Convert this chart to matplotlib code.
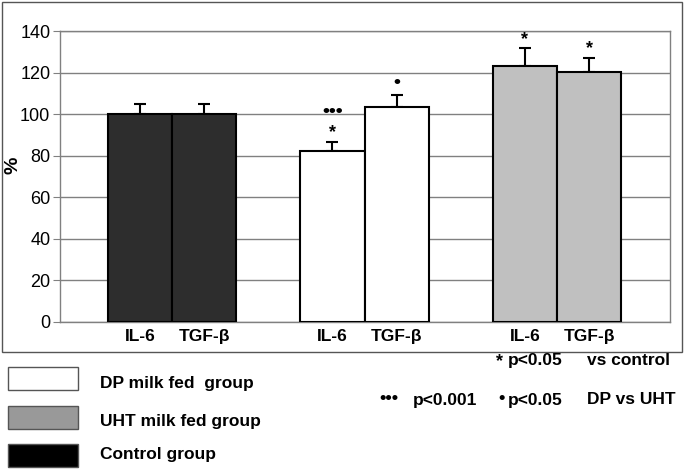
import matplotlib
matplotlib.use('Agg')
import matplotlib.pyplot as plt
import numpy as np
from matplotlib.patches import Rectangle

plt.rcParams['font.family'] = ['Liberation Sans', 'DejaVu Sans']

# data
groups = ['Control group', 'DP milk fed  group', 'UHT milk fed group']
markers = ['IL-6', 'TGF-β']
control_vals = [100, 100]
dp_vals = [82.4, 103.6]
uht_vals = [123.3, 120.1]
control_err = [5, 5]
dp_err = [4, 5.4]
uht_err = [8.3, 7]
# significance marks above each bar (top line first)
control_sig = [[], []]
dp_sig = [['•••', '*'], ['•']]
uht_sig = [['*'], ['*']]

values = [control_vals, dp_vals, uht_vals]
errors = [control_err, dp_err, uht_err]
sigs = [control_sig, dp_sig, uht_sig]
bar_colors = ['#2d2d2d', 'white', '#c0c0c0']
legend_colors = ['white', '#999999', 'black']

W, H = 685, 469
fig = plt.figure(figsize=(W / 100, H / 100), dpi=100)


def fx(px):
    return px / W


def fy(py):
    return 1 - py / H


# outer frame around the chart part
fig.patches.append(Rectangle((fx(2), fy(352)), fx(680), (350 / H),
                             transform=fig.transFigure, fill=False,
                             edgecolor='#555555', lw=1))

ax = fig.add_axes([fx(60), fy(322), fx(610), (322 - 31) / H])

width = 0.333
for g in range(3):
    xs = [g - width / 2, g + width / 2]
    ax.bar(xs, values[g], width, color=bar_colors[g], edgecolor='black',
           lw=1.5, zorder=3)
    ax.errorbar(xs, values[g], yerr=[[0, 0], errors[g]], fmt='none',
                ecolor='black', elinewidth=1.5, capsize=4.5, capthick=1.5,
                zorder=2)
    for i in range(2):
        top = values[g][i] + errors[g][i]
        marks = sigs[g][i]
        for k, m in enumerate(reversed(marks)):
            if m == '*':
                ax.text(xs[i], top + 4.5 + k * 9, m, ha='center', va='center',
                        fontsize=13, fontweight='bold')
            else:
                ax.text(xs[i], top + 6 + k * 9, m, ha='center', va='center',
                        fontsize=14, fontweight='bold')

ax.set_xlim(-0.582, 2.587)
ax.set_ylim(0, 140)
ax.set_yticks(np.arange(0, 141, 20))
ax.yaxis.grid(True, color='#808080', lw=1)
ax.set_axisbelow(True)
for s in ax.spines.values():
    s.set_color('#808080')
    s.set_linewidth(1)
ax.tick_params(axis='y', length=5, color='#808080', labelsize=13, pad=2)

xt = []
xl = []
for g in range(3):
    xt += [g - width / 2, g + width / 2]
    xl += markers
ax.set_xticks(xt)
ax.set_xticklabels(xl, fontsize=12.5, fontweight='bold')
ax.tick_params(axis='x', length=0, pad=5)

fig.text(fx(13), fy(165), '%', rotation=90, fontsize=14, fontweight='bold',
         ha='center', va='center')

# legend boxes
box_y = [367, 406, 444]
text_y = [383, 421, 454]
order = [1, 2, 0]
for j in range(3):
    fig.patches.append(Rectangle((fx(8), fy(box_y[j] + 23)), fx(70), 23 / H,
                                 transform=fig.transFigure,
                                 facecolor=legend_colors[j],
                                 edgecolor='#555555', lw=1))
    fig.text(fx(100), fy(text_y[j]), groups[order[j]], fontsize=12.5,
             fontweight='bold', va='center', ha='left')

# significance key
fig.text(fx(500), fy(362), '*', fontsize=13, fontweight='bold', ha='center',
         va='center')
fig.text(fx(508), fy(360), 'p<0.05', fontsize=12.5, fontweight='bold',
         va='center')
fig.text(fx(587), fy(360), 'vs control', fontsize=12.5, fontweight='bold',
         va='center')
fig.text(fx(389), fy(398), '•••', fontsize=13, fontweight='bold', ha='center',
         va='center')
fig.text(fx(413), fy(400), 'p<0.001', fontsize=12.5, fontweight='bold',
         va='center')
fig.text(fx(502), fy(398), '•', fontsize=13, fontweight='bold', ha='center',
         va='center')
fig.text(fx(508), fy(400), 'p<0.05', fontsize=12.5, fontweight='bold',
         va='center')
fig.text(fx(587), fy(400), 'DP vs UHT', fontsize=12.5, fontweight='bold',
         va='center')

fig.savefig('out.png', dpi=100)
